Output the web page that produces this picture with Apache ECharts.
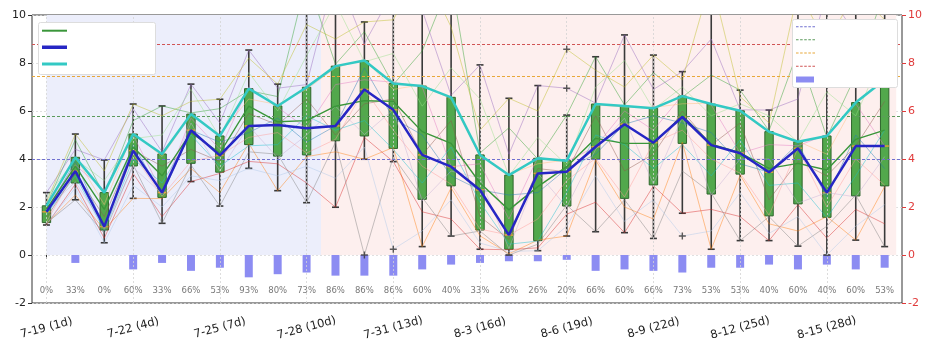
<!DOCTYPE html>
<html>
<head>
<meta charset="utf-8">
<script src="https://cdn.jsdelivr.net/npm/echarts@6.0.0/dist/echarts.min.js"></script>
<style>
html, body { margin: 0; padding: 0; background: #fff; }
#chart { width: 933px; height: 340px; }
</style>
</head>
<body>
<div id="chart"></div>
<script>
// 天数
const days = [1,2,3,4,5,6,7,8,9,10,11,12,13,14,15,16,17,18,19,20,21,22,23,24,25,26,27,28,29,30];
const tickDays = [1, 4, 7, 10, 13, 16, 19, 22, 25, 28];
const tickLabels = ['7-19 (1d)','7-22 (4d)','7-25 (7d)','7-28 (10d)','7-31 (13d)','8-3 (16d)','8-6 (19d)','8-9 (22d)','8-12 (25d)','8-15 (28d)'];

// 箱线图
const boxMin = [1.25,2.3,0.51,2.36,1.32,3.06,2.04,3.61,2.68,2.18,1.99,3.99,3.89,0.35,0.79,0.24,0,0.18,0.79,0.97,0.93,0.69,1.74,0.24,0.6,0.6,0.37,0,0.62,0.35];
const boxQ1 = [1.35,3.0,1.04,3.71,2.4,3.82,3.45,4.6,4.12,4.17,4.76,4.96,4.44,2.32,2.88,1.04,0.24,0.6,2.04,3.99,2.36,2.92,4.65,2.54,3.37,1.63,2.13,1.57,2.46,2.88];
const boxMed = [1.8,3.5,1.18,4.35,2.6,5.2,4.15,5.38,5.42,5.28,5.38,6.9,6.05,4.17,3.68,2.71,0.83,3.4,3.47,4.51,5.45,4.68,5.75,4.58,4.24,3.45,4.45,2.6,4.54,4.54];
const boxQ3 = [2.05,4.07,2.6,5.04,4.21,5.87,4.96,6.93,6.21,6.99,7.87,8.1,7.15,7.04,6.57,4.17,3.33,4.03,3.93,6.29,6.21,6.11,6.62,6.29,6.01,5.14,4.72,4.96,6.35,7.3];
const boxMax = [2.6,5.04,3.96,6.29,6.21,7.12,6.49,8.54,7.12,11.5,11.8,9.71,11,12,11.5,7.92,6.53,7.06,5.83,8.26,9.17,8.33,7.64,11.5,6.87,6.04,11,11,11,11];
const meanLine = [1.9,3.7,1.9,4.5,3.3,5.1,4.25,6.2,5.55,5.6,6.2,6.43,6.4,5.14,4.65,3.0,1.88,2.85,3.68,4.86,4.65,4.65,5.8,4.62,4.26,3.61,3.82,3.54,4.82,5.2];
const outlierDays = [12, 13, 19, 19, 23];
const outlierValues = [0, 0.24, 8.57, 6.95, 0.79];

// 每人每天 (按天从低到高)
const dayScores = [
  [1.25,1.28,1.3,1.33,1.37,1.55,1.7,1.8,1.9,1.98,2.02,2.08,2.2,2.4,2.6],
  [2.3,2.5,2.8,2.95,3.05,3.3,3.4,3.5,3.75,3.9,4.0,4.1,4.4,4.8,5.04],
  [0.51,0.7,0.9,1.02,1.06,1.1,1.15,1.18,1.6,2.1,2.5,2.7,3.1,3.5,3.96],
  [2.36,2.9,3.4,3.65,3.77,4.0,4.2,4.35,4.6,4.85,5.0,5.1,5.6,6.1,6.29],
  [1.32,1.6,2.0,2.35,2.45,2.5,2.55,2.6,3.0,3.7,4.1,4.3,5.0,5.8,6.21],
  [3.06,3.3,3.6,3.75,3.9,4.4,5.0,5.2,5.5,5.7,5.82,5.92,6.4,6.9,7.12],
  [2.04,2.6,3.1,3.4,3.5,3.7,3.9,4.15,4.4,4.7,4.9,5.02,5.5,6.1,6.49],
  [3.61,3.9,4.3,4.55,4.65,4.9,5.1,5.38,5.9,6.5,6.85,7.0,7.6,8.2,8.54],
  [2.68,3.3,3.8,4.05,4.2,4.6,5.1,5.42,5.7,6.0,6.15,6.27,6.6,6.95,7.12],
  [2.18,3.0,3.7,4.1,4.25,4.7,5.0,5.28,5.8,6.5,6.9,7.1,8.3,9.6,11.5],
  [1.99,3.2,4.3,4.7,4.82,5.0,5.2,5.38,6.2,7.1,7.8,7.95,9.0,10.5,11.8],
  [0,3.99,4.5,4.9,5.02,5.6,6.3,6.9,7.3,7.8,8.05,8.15,8.8,9.3,9.71],
  [0.24,3.89,4.1,4.4,4.48,5.2,5.7,6.05,6.5,6.9,7.1,7.2,8.4,9.8,11.0],
  [0.35,1.0,1.8,2.25,2.4,3.0,3.7,4.17,5.0,6.2,7.0,7.1,8.5,10.2,12.0],
  [0.79,1.5,2.3,2.8,2.95,3.3,3.5,3.68,4.5,5.6,6.5,6.65,7.8,9.5,11.5],
  [0.24,0.5,0.8,1.0,1.08,1.6,2.2,2.71,3.2,3.8,4.1,4.25,5.2,6.5,7.92],
  [0,0.05,0.15,0.22,0.26,0.45,0.65,0.83,1.5,2.5,3.3,3.36,4.2,5.3,6.53],
  [0.18,0.3,0.45,0.58,0.62,1.5,2.6,3.4,3.6,3.8,4.0,4.06,4.9,6.0,7.06],
  [0.79,1.2,1.7,2.0,2.08,2.6,3.1,3.47,3.6,3.75,3.9,3.96,5.83,6.95,8.57],
  [0.97,2.2,3.3,3.95,4.03,4.2,4.4,4.51,5.0,5.8,6.25,6.33,7.0,7.7,8.26],
  [0.93,1.4,2.0,2.3,2.42,3.5,4.6,5.45,5.7,6.0,6.17,6.25,7.0,8.1,9.17],
  [0.69,1.5,2.3,2.88,2.96,3.6,4.2,4.68,5.2,5.8,6.07,6.15,6.9,7.6,8.33],
  [0.79,1.74,3.5,4.6,4.7,5.2,5.5,5.75,6.0,6.3,6.58,6.66,7.0,7.3,7.64],
  [0.24,1.0,1.9,2.5,2.58,3.3,4.0,4.58,5.1,5.8,6.25,6.33,7.5,9.0,11.5],
  [0.6,1.6,2.6,3.33,3.41,3.8,4.0,4.24,4.8,5.5,5.97,6.05,6.3,6.6,6.87],
  [0.6,0.9,1.3,1.6,1.66,2.3,2.9,3.45,4.0,4.6,5.1,5.18,5.5,5.8,6.04],
  [0.37,1.0,1.6,2.1,2.16,3.0,3.9,4.45,4.55,4.65,4.7,4.74,6.5,8.5,11.0],
  [0,0.7,1.2,1.55,1.6,2.0,2.4,2.6,3.3,4.2,4.9,5.02,6.8,8.8,11.0],
  [0.62,1.2,1.9,2.42,2.5,3.3,4.0,4.54,5.0,5.8,6.3,6.4,7.5,9.2,11.0],
  [0.35,1.3,2.1,2.85,2.91,3.6,4.1,4.54,5.2,6.4,7.25,7.35,8.5,9.8,11.0]
];
// 每天各人的名次
const rankPatterns = [
  [8,3,12,1,15,6,10,4,13,7,2,11,14,5,9],
  [10,2,14,4,13,7,9,1,15,6,3,12,11,8,5],
  [7,5,11,2,15,9,12,3,14,4,1,10,13,6,8],
  [9,1,13,3,14,8,11,5,15,6,2,12,10,7,4],
  [6,4,15,2,12,10,8,1,14,9,3,11,13,5,7]
];
const personColors = ['#1f77b4','#ff7f0e','#2ca02c','#d62728','#9467bd','#8c564b','#e377c2','#7f7f7f','#bcbd22','#17becf','#aec7e8','#ffbb78','#98df8a','#ff9896','#c5b0d5'];

// 比例
const pctValues = [0,33,0,60,33,66,53,93,80,73,86,86,86,60,40,33,26,26,20,66,60,66,73,53,53,40,60,40,60,53];

// 参考线
const refNames = ['参考线1', '参考线2', '参考线3', '参考线4'];
const refValues = [4.0, 5.8, 7.45, 8.8];
const refColors = ['#7070d0', '#5c9a5c', '#e8a83a', '#d05454'];

// 背景
const zoneStart = [1, 10.5];
const zoneEnd = [10.5, 30.4];
const zoneColors = ['#eceefb', '#fdefee'];

const chart = echarts.init(document.getElementById('chart'));
const font = 'DejaVu Sans';
const dashIcon = 'path://M0,0 L2.5,0 L2.5,1 L0,1 Z M4,0 L6.5,0 L6.5,1 L4,1 Z M8,0 L10.5,0 L10.5,1 L8,1 Z M12,0 L14.5,0 L14.5,1 L12,1 Z M16,0 L18.5,0 L18.5,1 L16,1 Z';

const personSeries = [];
for (let p = 0; p < 15; p++) {
  personSeries.push({
    type: 'line',
    name: 'p' + (p + 1),
    data: days.map((d, i) => [d, dayScores[i][rankPatterns[i % 5][p] - 1]]),
    symbol: 'none',
    silent: true,
    z: 4,
    lineStyle: { width: 1, color: personColors[p], opacity: 0.45 }
  });
}

const refSeries = refNames.map((n, i) => ({
  type: 'line',
  name: n,
  data: [],
  symbol: 'none',
  lineStyle: { width: 1, type: [3, 2], color: refColors[i] },
  itemStyle: { color: refColors[i] },
  z: 1,
  markLine: {
    silent: true,
    symbol: 'none',
    label: { show: false },
    lineStyle: { width: 1, type: [3, 2], color: refColors[i] },
    data: [{ yAxis: refValues[i] }]
  }
}));

function lineLegend(name, top, h, left, w) {
  return {
    data: [{ name: name, icon: 'rect' }],
    left: left, top: top, padding: 0,
    itemWidth: w, itemHeight: h,
    formatter: () => '', z: 20, selectedMode: false
  };
}

const option = {
  animation: false,
  grid: { left: 32, right: 31, top: 15, bottom: 37, show: true, borderColor: '#333', borderWidth: 1, outerBoundsMode: 'none' },
  xAxis: {
    type: 'value',
    min: 0.5,
    max: 30.6,
    axisLine: { show: false },
    splitLine: { show: false },
    axisTick: { show: true, customValues: tickDays, length: 4, lineStyle: { color: '#333' } },
    axisLabel: {
      customValues: tickDays,
      formatter: v => tickLabels[tickDays.indexOf(v)],
      rotate: 15,
      align: 'center',
      verticalAlign: 'middle',
      margin: 25,
      fontFamily: font,
      fontSize: 11.5,
      color: '#222'
    }
  },
  yAxis: [
    {
      type: 'value', min: -2, max: 10, interval: 2,
      axisLine: { show: false },
      axisTick: { show: true, length: 4, lineStyle: { color: '#333' } },
      axisLabel: { fontFamily: font, fontSize: 11, color: '#222', margin: 6 },
      splitLine: { show: true, lineStyle: { color: '#d8d8d8', type: [2, 2], width: 0.8 } }
    },
    {
      type: 'value', min: -2, max: 10, interval: 2, position: 'right',
      axisLine: { show: false },
      axisTick: { show: true, length: 4, lineStyle: { color: '#e03a3a' } },
      axisLabel: { fontFamily: font, fontSize: 11, color: '#e03a3a', margin: 6 },
      splitLine: { show: false }
    }
  ],
  legend: [
    lineLegend('平均值', 29.7, 2, 42, 25),
    lineLegend('中位数', 45.5, 3.5, 42, 25),
    lineLegend('75分位', 62.5, 3, 42, 25),
    {
      data: refNames.map(n => ({ name: n, icon: dashIcon })),
      orient: 'vertical', left: 796, top: 26, padding: 0,
      itemWidth: 19, itemHeight: 1.3, itemGap: 12,
      formatter: () => '', z: 20, selectedMode: false
    },
    lineLegend('比例', 76.5, 6, 796, 18)
  ],
  graphic: [
    { type: 'rect', left: 38, top: 22, shape: { width: 117, height: 52, r: 2 }, style: { fill: '#fff', stroke: '#ddd', lineWidth: 1 }, z: 10 },
    { type: 'rect', left: 792, top: 19, shape: { width: 105, height: 68, r: 2 }, style: { fill: '#fff', stroke: '#ddd', lineWidth: 1 }, z: 10 }
  ],
  series: [
    {
      type: 'custom',
      name: 'bg',
      silent: true,
      z: 0,
      data: zoneStart.map((s, i) => [s, zoneEnd[i], i]),
      renderItem: (params, api) => {
        const a = api.coord([api.value(0), 10]);
        const b = api.coord([api.value(1), 0]);
        return { type: 'rect', shape: { x: a[0], y: a[1], width: b[0] - a[0], height: b[1] - a[1] }, style: { fill: zoneColors[api.value(2)] } };
      }
    },
    {
      type: 'line',
      name: 'grid',
      data: [],
      z: 1,
      markLine: {
        silent: true, symbol: 'none', label: { show: false },
        lineStyle: { color: '#d4d4d4', type: [2, 2], width: 0.8 },
        data: tickDays.map(d => ({ xAxis: d }))
      }
    },
    ...refSeries,
    {
      type: 'bar',
      name: '比例',
      data: days.map((d, i) => [d, pctValues[i] ? -pctValues[i] / 100 : null]),
      barWidth: 8,
      z: 2,
      itemStyle: { color: '#8c8cf2' }
    },
    {
      type: 'scatter',
      name: 'pctLabel',
      data: days.map(d => [d, -1.5]),
      symbolSize: 1,
      silent: true,
      itemStyle: { color: 'rgba(0,0,0,0)' },
      label: {
        show: true, position: 'inside',
        formatter: p => pctValues[p.dataIndex] + '%',
        fontFamily: font, fontSize: 8.5, color: '#555'
      }
    },
    {
      type: 'custom',
      name: 'box',
      z: 3,
      clip: true,
      data: days.map((d, i) => [d, boxMin[i], boxQ1[i], boxMed[i], boxQ3[i], boxMax[i]]),
      encode: { x: 0, y: [1, 2, 3, 4, 5] },
      renderItem: (params, api) => {
        const x = api.value(0);
        const top = params.coordSys.y;
        const pMin = api.coord([x, api.value(1)]);
        const pQ1 = api.coord([x, api.value(2)]);
        const pMed = api.coord([x, api.value(3)]);
        const pQ3 = api.coord([x, api.value(4)]);
        const pMax = api.coord([x, api.value(5)]);
        const hw = 4.2, cw = 3.5;
        const ws = { stroke: '#3a3a3a', lineWidth: 1.6 };
        const yMax = Math.max(pMax[1], top);
        const kids = [
          { type: 'line', shape: { x1: pMin[0], y1: pMin[1], x2: pQ1[0], y2: pQ1[1] }, style: ws },
          { type: 'line', shape: { x1: pQ3[0], y1: pQ3[1], x2: pMax[0], y2: yMax }, style: ws },
          { type: 'line', shape: { x1: pMin[0] - cw, y1: pMin[1], x2: pMin[0] + cw, y2: pMin[1] }, style: ws }
        ];
        if (pMax[1] >= top) {
          kids.push({ type: 'line', shape: { x1: pMax[0] - cw, y1: pMax[1], x2: pMax[0] + cw, y2: pMax[1] }, style: ws });
        }
        kids.push({ type: 'rect', shape: { x: pQ3[0] - hw, y: pQ3[1], width: hw * 2, height: pQ1[1] - pQ3[1] }, style: { fill: '#52a84c', stroke: '#2e662c', lineWidth: 1 } });
        kids.push({ type: 'line', shape: { x1: pMed[0] - hw, y1: pMed[1], x2: pMed[0] + hw, y2: pMed[1] }, style: { stroke: '#e0a03a', lineWidth: 1.5 } });
        return { type: 'group', children: kids };
      }
    },
    {
      type: 'scatter',
      name: 'outlier',
      data: outlierDays.map((d, i) => [d, outlierValues[i]]),
      symbol: 'path://M4,0 L6,0 L6,4 L10,4 L10,6 L6,6 L6,10 L4,10 L4,6 L0,6 L0,4 L4,4 Z',
      symbolSize: 7,
      z: 6,
      itemStyle: { color: '#333' }
    },
    ...personSeries,
    {
      type: 'line', name: '平均值',
      data: days.map((d, i) => [d, meanLine[i]]),
      symbol: 'none', z: 7,
      lineStyle: { width: 1.4, color: '#3a963a' },
      itemStyle: { color: '#3a963a' }
    },
    {
      type: 'line', name: '中位数',
      data: days.map((d, i) => [d, boxMed[i]]),
      symbol: 'none', z: 7,
      lineStyle: { width: 2.5, color: '#2626c4' },
      itemStyle: { color: '#2626c4' }
    },
    {
      type: 'line', name: '75分位',
      data: days.map((d, i) => [d, boxQ3[i]]),
      symbol: 'none', z: 7,
      lineStyle: { width: 2.5, color: '#33c9c4' },
      itemStyle: { color: '#33c9c4' }
    }
  ]
};

chart.setOption(option);
</script>
</body>
</html>
